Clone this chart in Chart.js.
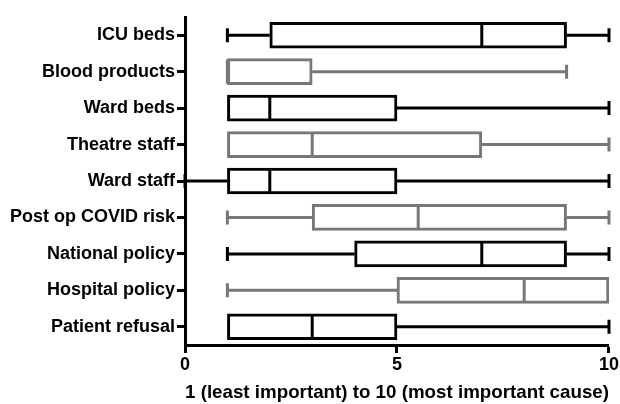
<!DOCTYPE html>
<html>
<head>
<meta charset="utf-8">
<script src="https://cdn.jsdelivr.net/npm/chart.js@4"></script>
<style>
html,body{margin:0;padding:0;background:#fff;}
#wrap{width:620px;height:404px;}
</style>
</head>
<body>
<div id="wrap"><canvas id="c" width="620" height="404"></canvas></div>
<script>
const categories = ["ICU beds","Blood products","Ward beds","Theatre staff","Ward staff","Post op COVID risk","National policy","Hospital policy","Patient refusal"];
const minVals    = [1, 1, 1, 1, 0, 1,   1, 1, 1];
const q1Vals     = [2, 1, 1, 1, 1, 3,   4, 5, 1];
const medianVals = [7, 1, 2, 3, 2, 5.5, 7, 8, 3];
const q3Vals     = [9, 3, 5, 7, 5, 9,   9, 10, 5];
const maxVals    = [10, 9, 10, 10, 10, 10, 10, 10, 10];
const xTicks     = [0, 5, 10];

const BLACK = '#000000', GRAY = '#777777';
const colors = categories.map((_, i) => i % 2 === 0 ? BLACK : GRAY);
const FONT = "'Liberation Sans', Arial, Helvetica, sans-serif";
const BOX_H = 26, CAP_H = 14, LW = 3;

const boxPlugin = {
  id: 'boxParts',
  beforeDatasetsDraw(chart) {
    const ctx = chart.ctx, xs = chart.scales.x, ys = chart.scales.y;
    ctx.save();
    ctx.lineWidth = LW;
    ctx.lineCap = 'butt';
    categories.forEach((c, i) => {
      const y = ys.getPixelForValue(i);
      ctx.strokeStyle = colors[i];
      const xmin = xs.getPixelForValue(minVals[i]);
      const xmax = xs.getPixelForValue(maxVals[i]);
      const xq1 = xs.getPixelForValue(q1Vals[i]);
      const xq3 = xs.getPixelForValue(q3Vals[i]);
      ctx.beginPath();
      if (minVals[i] < q1Vals[i]) {
        ctx.moveTo(xmin, y); ctx.lineTo(xq1, y);
        ctx.moveTo(xmin, y - CAP_H / 2); ctx.lineTo(xmin, y + CAP_H / 2);
      }
      if (maxVals[i] > q3Vals[i]) {
        ctx.moveTo(xq3, y); ctx.lineTo(xmax, y);
        ctx.moveTo(xmax, y - CAP_H / 2); ctx.lineTo(xmax, y + CAP_H / 2);
      }
      ctx.stroke();
    });
    ctx.restore();
  },
  afterDatasetsDraw(chart) {
    const ctx = chart.ctx, xs = chart.scales.x, ys = chart.scales.y;
    ctx.save();
    ctx.lineWidth = LW;
    categories.forEach((c, i) => {
      const y = ys.getPixelForValue(i);
      const xm = xs.getPixelForValue(medianVals[i]);
      ctx.strokeStyle = colors[i];
      ctx.beginPath();
      ctx.moveTo(xm, y - BOX_H / 2 + 1);
      ctx.lineTo(xm, y + BOX_H / 2 - 1);
      ctx.stroke();
    });
    ctx.restore();
  }
};

new Chart(document.getElementById('c'), {
  type: 'bar',
  data: {
    labels: categories,
    datasets: [{
      data: categories.map((_, i) => [q1Vals[i], q3Vals[i]]),
      backgroundColor: '#ffffff',
      borderColor: colors,
      borderWidth: LW,
      borderSkipped: false,
      barThickness: BOX_H
    }]
  },
  options: {
    indexAxis: 'y',
    responsive: false,
    animation: false,
    devicePixelRatio: 1,
    layout: { padding: { top: 17, right: 11, left: 0, bottom: 0 } },
    plugins: { legend: { display: false }, tooltip: { enabled: false } },
    scales: {
      x: {
        type: 'linear',
        min: 0, max: 10,
        afterBuildTicks: (s) => { s.ticks = xTicks.map(v => ({ value: v })); },
        afterFit: (s) => { s.height = 59; },
        ticks: { color: BLACK, font: { family: FONT, size: 18, weight: 'bold' }, padding: 1, maxRotation: 0 },
        grid: { display: true, drawOnChartArea: false, drawTicks: true, tickLength: 8, tickWidth: 3, tickColor: BLACK },
        border: { display: true, width: 3, color: BLACK },
        title: { display: true, text: '1 (least important) to 10 (most important cause)', color: BLACK, font: { family: FONT, size: 19, weight: 'bold' }, padding: { top: 4, bottom: 0 } }
      },
      y: {
        type: 'category',
        offset: true,
        afterFit: (s) => { s.width = 185; },
        ticks: { color: BLACK, font: { family: FONT, size: 18, weight: 'bold' }, padding: 2 },
        grid: { display: true, offset: false, drawOnChartArea: false, drawTicks: true, tickLength: 8, tickWidth: 3, tickColor: BLACK },
        border: { display: true, width: 3, color: BLACK }
      }
    }
  },
  plugins: [boxPlugin]
});
</script>
</body>
</html>
